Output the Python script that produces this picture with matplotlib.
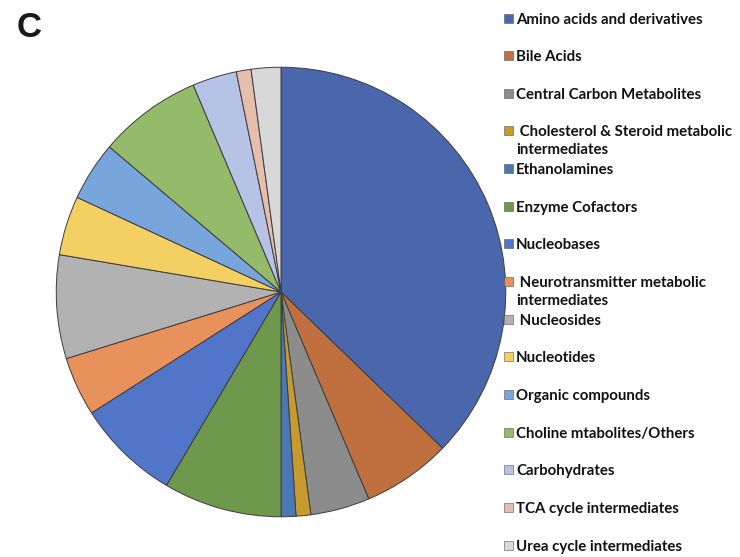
import matplotlib
matplotlib.use("Agg")
import matplotlib.pyplot as plt
from matplotlib.patches import Rectangle

categories = [
    "Amino acids and derivatives",
    "Bile Acids",
    "Central Carbon Metabolites",
    " Cholesterol & Steroid metabolic\nintermediates",
    "Ethanolamines",
    "Enzyme Cofactors",
    "Nucleobases",
    " Neurotransmitter metabolic\nintermediates",
    " Nucleosides",
    "Nucleotides",
    "Organic compounds",
    "Choline mtabolites/Others",
    "Carbohydrates",
    "TCA cycle intermediates",
    "Urea cycle intermediates",
]
values = [35, 6, 4, 1, 1, 8, 7, 4, 7, 4, 4, 7, 3, 1, 2]
colors = [
    "#4A66AC", "#C0703F", "#8C8C8C", "#C79A2E", "#4A78B5",
    "#6E994C", "#5175C9", "#E8915A", "#B2B2B2", "#F4CF62",
    "#78A5DC", "#94BB6A", "#B6C3E7", "#E6BEAE", "#D8D8D8",
]

W, H = 740, 557
fig = plt.figure(figsize=(W / 100, H / 100), dpi=100)

cx, cy, r = 281, 292, 227
ax = fig.add_axes([(cx - r) / W, (H - cy - r) / H, 2 * r / W, 2 * r / H])
wedges, _ = ax.pie(values, colors=colors, startangle=90, counterclock=False,
                   radius=1.0,
                   wedgeprops=dict(edgecolor="#3c3c3c", linewidth=0.7))
ax.set_xlim(-1.01, 1.01)
ax.set_ylim(-1.01, 1.01)
ax.set_aspect("equal")
ax.axis("off")

fig.text(17 / W, 1 - 37 / H, "C", fontsize=25, fontweight="bold",
         family="Liberation Sans", color="#1a1a1a", va="baseline", ha="left")

for i, (lab, col) in enumerate(zip(categories, colors)):
    base = 23.5 + i * 37.65
    sq = 9
    fig.patches.append(Rectangle((504 / W, 1 - (base - 1) / H), sq / W, sq / H,
                                 transform=fig.transFigure, facecolor=col,
                                 edgecolor="#555555", linewidth=0.4))
    for j, line in enumerate(lab.split("\n")):
        fig.text(516 / W, 1 - (base + 18 * j) / H, line, fontsize=10.8,
                 fontweight="bold", family="Lato", color="#111111",
                 va="baseline", ha="left")

fig.savefig("out.png", dpi=100)
